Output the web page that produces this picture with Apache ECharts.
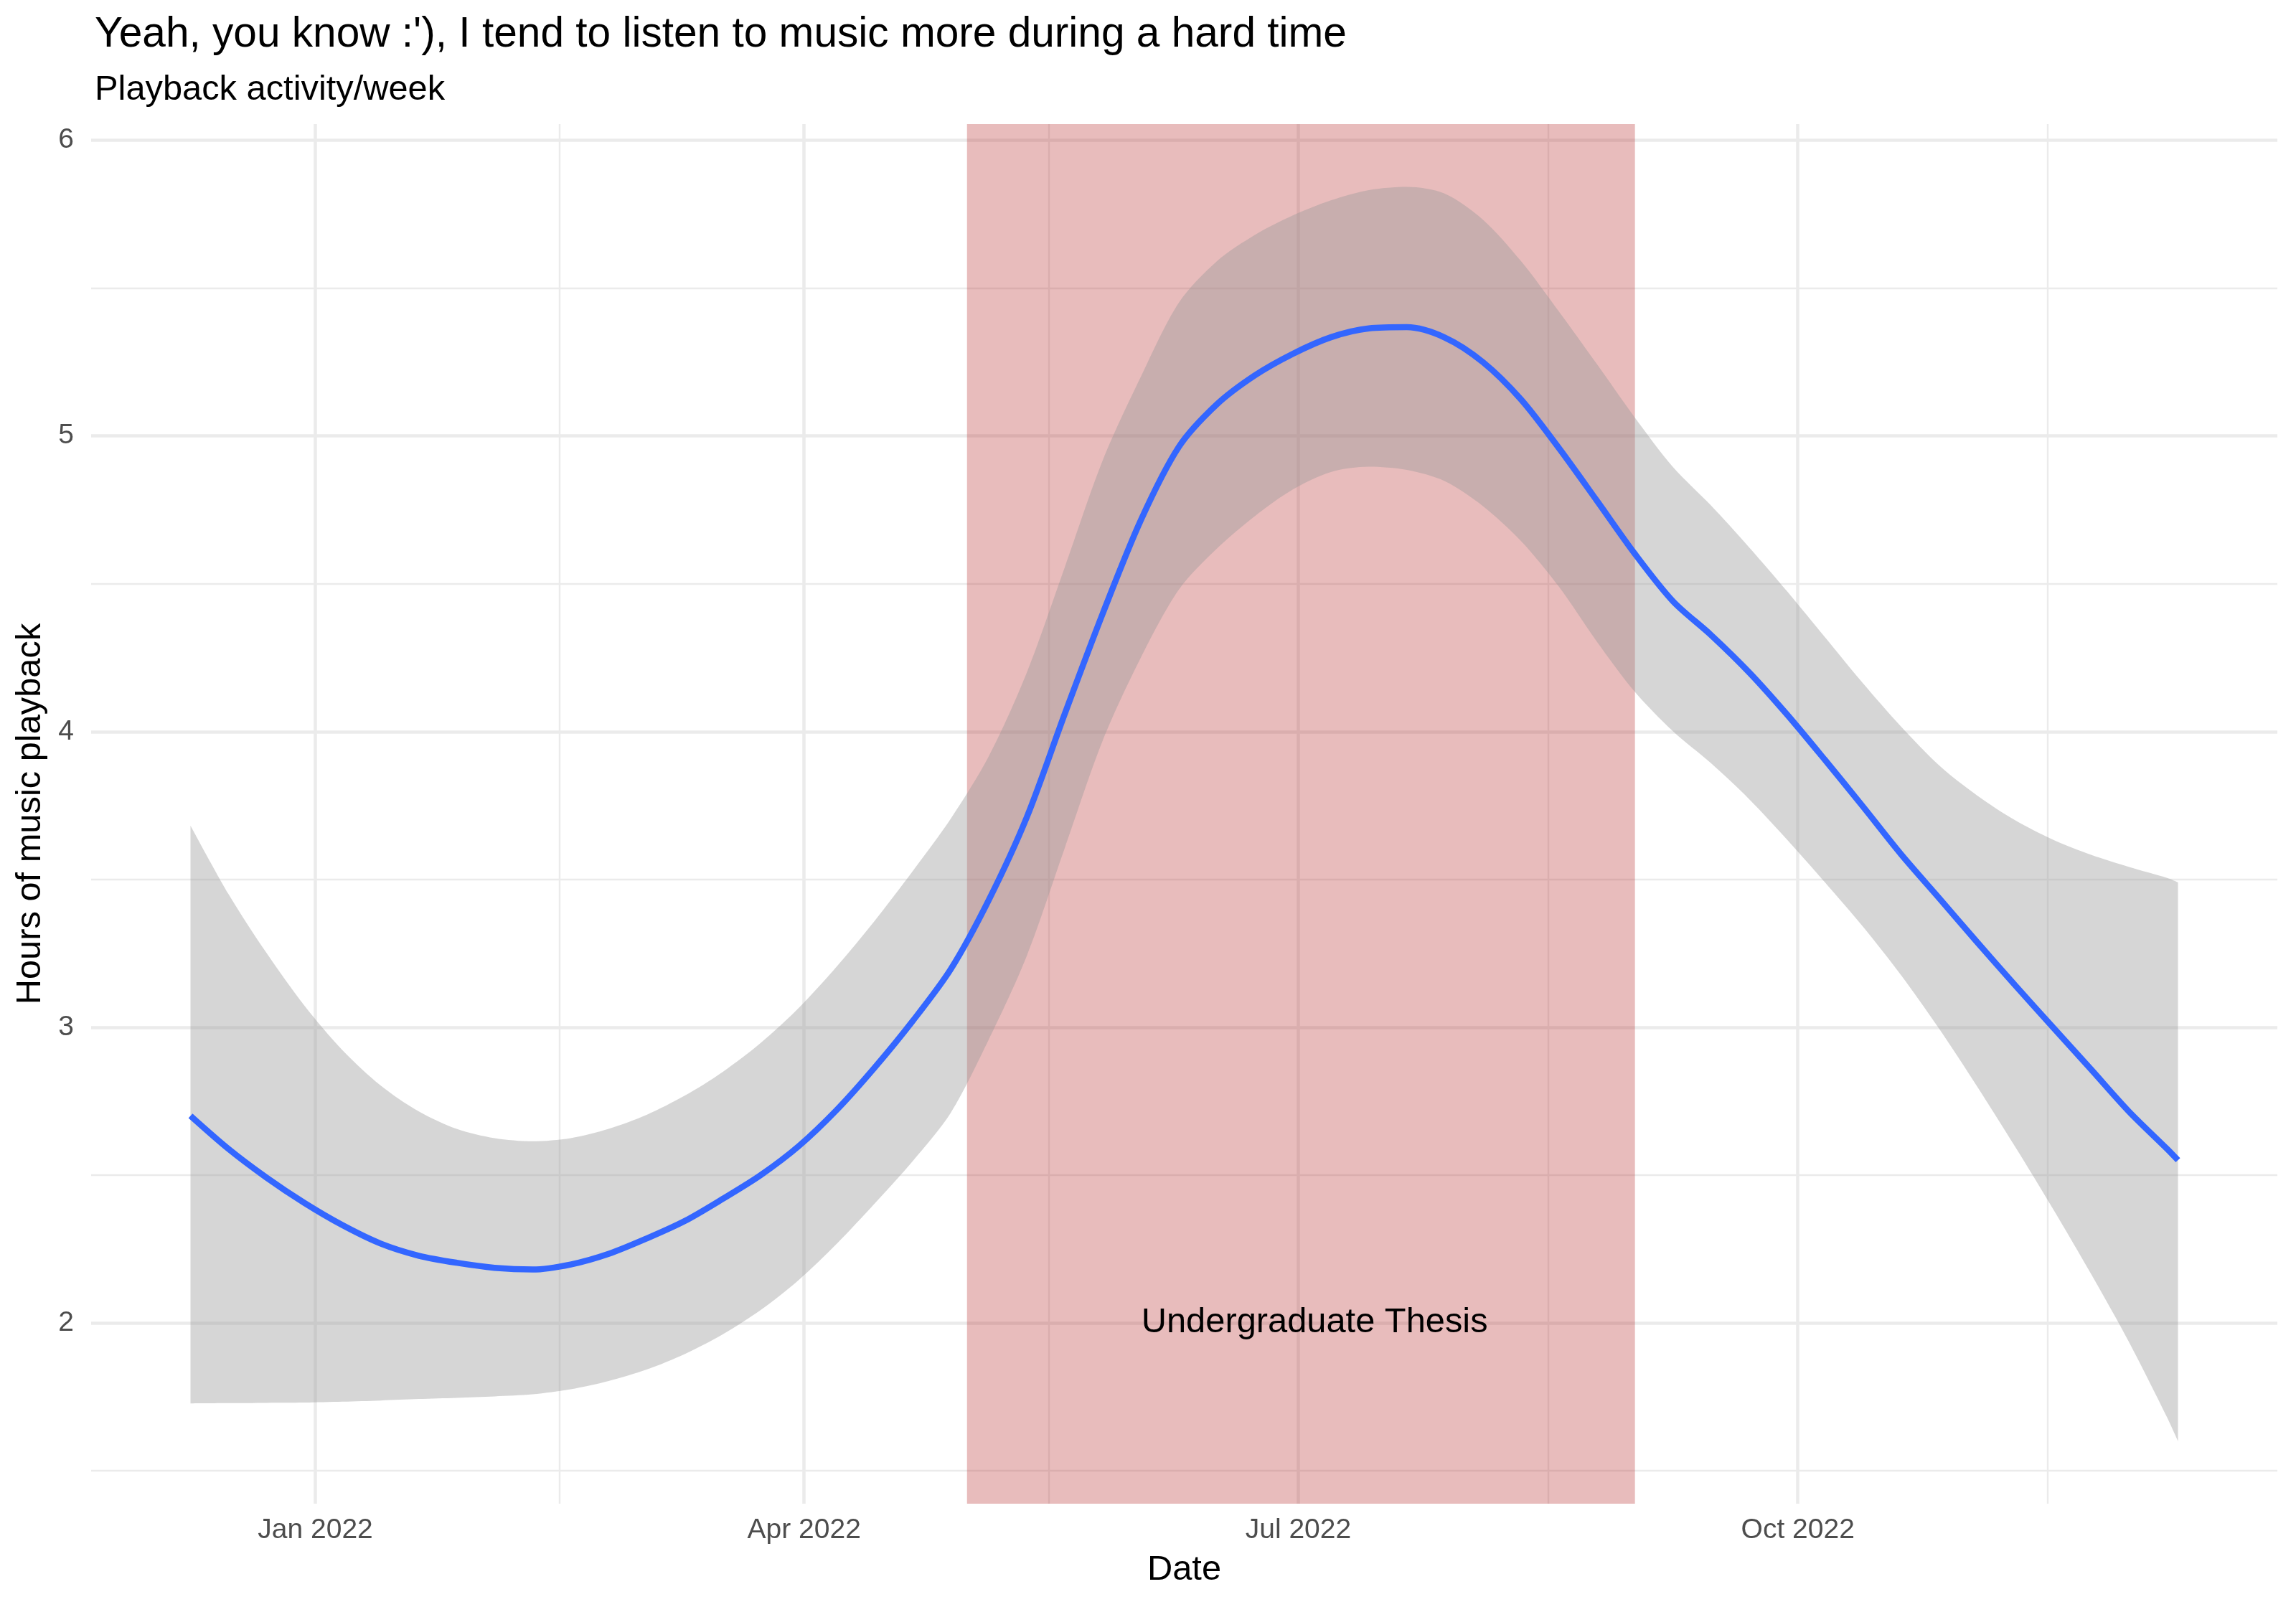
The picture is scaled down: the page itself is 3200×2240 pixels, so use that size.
<!DOCTYPE html>
<html><head><meta charset="utf-8">
<script src="https://cdn.jsdelivr.net/npm/echarts@6/dist/echarts.min.js"></script>
<style>html,body{margin:0;padding:0;background:#fff}#c{width:3200px;height:2240px}</style>
</head><body><div id="c"></div>
<script>
// ---- data ----
const dates = ['2021-12-09','2021-12-16','2021-12-23','2021-12-30','2022-01-06','2022-01-13','2022-01-20','2022-01-27',
 '2022-02-03','2022-02-10','2022-02-17','2022-02-24','2022-03-03','2022-03-10','2022-03-17','2022-03-24','2022-03-31',
 '2022-04-07','2022-04-14','2022-04-21','2022-04-28','2022-05-05','2022-05-12','2022-05-19','2022-05-26','2022-06-02',
 '2022-06-09','2022-06-16','2022-06-23','2022-06-30','2022-07-07','2022-07-14','2022-07-21','2022-07-28','2022-08-04',
 '2022-08-11','2022-08-18','2022-08-25','2022-09-01','2022-09-08','2022-09-15','2022-09-22','2022-09-29','2022-10-06',
 '2022-10-13','2022-10-20','2022-10-27','2022-11-03','2022-11-10','2022-11-17','2022-11-24','2022-12-01','2022-12-08','2022-12-10'];
const fitted = [2.70,2.588,2.491,2.405,2.33,2.268,2.227,2.203,2.186,2.18,2.197,2.233,2.285,2.344,2.419,2.4995,2.5975,
 2.72,2.8635,3.021,3.196,3.43,3.71,4.06,4.40,4.715,4.963,5.107,5.205,5.278,5.334,5.364,5.368,5.333,5.25,5.124,
 4.959,4.781,4.601,4.441,4.327,4.201,4.058,3.904,3.746,3.585,3.437,3.288,3.142,2.999,2.857,2.714,2.588,2.55];
const upperCI = [3.682,3.4505,3.251,3.0725,2.922,2.803,2.7155,2.656,2.6245,2.614,2.6245,2.656,2.7035,2.768,2.8485,2.9465,3.065,
 3.205,3.36,3.528,3.705,3.916,4.199,4.556,4.918,5.2,5.451,5.591,5.68,5.746,5.797,5.832,5.843,5.82,5.732,5.592,
 5.421,5.243,5.062,4.895,4.765,4.624,4.475,4.319,4.163,4.017,3.886,3.784,3.7,3.634,3.583,3.542,3.505,3.49];
const lowerCI = [1.727,1.728,1.729,1.73,1.733,1.737,1.742,1.746,1.751,1.758,1.775,1.803,1.8415,1.894,1.9605,2.043,2.1445,
 2.267,2.4035,2.547,2.71,2.958,3.241,3.606,3.97,4.25,4.48,4.619,4.729,4.819,4.878,4.896,4.885,4.847,4.763,4.645,
 4.49,4.304,4.134,4.001,3.893,3.772,3.635,3.49,3.34,3.176,2.995,2.8,2.596,2.385,2.165,1.934,1.68,1.60];
const thesisStart = '2022-05-01';
const thesisEnd = '2022-09-01';
const thesisLabel = 'Undergraduate Thesis';
const thesisLabelDate = '2022-07-04';
const thesisLabelValue = 2;
const xTickDates = ['2022-01-01','2022-04-01','2022-07-01','2022-10-01'];
const xTickLabels = ['Jan 2022','Apr 2022','Jul 2022','Oct 2022'];
const xMinorDates = ['2022-02-15','2022-05-16','2022-08-16','2022-11-16'];
const yTicks = [2,3,4,5,6];
const yMinorTicks = [1.5,2.5,3.5,4.5,5.5];
const titleText = "Yeah, you know :'), I tend to listen to music more during a hard time";
const subtitleText = 'Playback activity/week';
const xName = 'Date';
const yName = 'Hours of music playback';

// ---- build ----
const toTs = s => { const [y,m,d] = s.split('-').map(Number); return Date.UTC(y, m-1, d); };
const ts = dates.map(toTs);
const xTickTs = xTickDates.map(toTs);
const xMinorTs = xMinorDates.map(toTs);
const span = ts[ts.length-1] - ts[0];
const xMin = ts[0] - 0.05*span, xMax = ts[ts.length-1] + 0.05*span;
const lo = Math.min(...lowerCI), hi = Math.max(...upperCI);
const yMin = lo - 0.05*(hi-lo), yMax = hi + 0.05*(hi-lo);

const FONT = 'Liberation Sans';
const chart = echarts.init(document.getElementById('c'), null, {renderer:'canvas'});
chart.setOption({
  animation: false,
  backgroundColor: '#ffffff',
  textStyle: {fontFamily: FONT},
  title: [
    {text: titleText, left: 127, top: 15, textStyle:{fontFamily: FONT, fontSize: 58.6, fontWeight:'normal', color:'#000', lineHeight:58.6}},
    {text: subtitleText, left: 127, top: 96, textStyle:{fontFamily: FONT, fontSize: 48.8, fontWeight:'normal', color:'#000', lineHeight:48.8}}
  ],
  grid: {left: 127, right: 26, top: 173, bottom: 144, containLabel: false},
  xAxis: [
    // axis used by the series (time scale), drawn invisibly
    {type:'time', min:xMin, max:xMax, position:'bottom',
     axisLine:{show:false}, axisTick:{show:false}, axisLabel:{show:false}, splitLine:{show:false}},
    // major breaks / labels
    {type:'value', min:xMin, max:xMax, scale:true, position:'bottom',
     name:xName, nameLocation:'middle', nameGap:68,
     nameTextStyle:{fontFamily:FONT, fontSize:48.8, color:'#000', lineHeight:48.8},
     axisLine:{show:false},
     axisTick:{show:false, customValues:xTickTs},
     axisLabel:{customValues:xTickTs, margin:18, fontFamily:FONT, fontSize:39, color:'#4D4D4D', lineHeight:39,
       formatter: v => { const i = xTickTs.indexOf(v); return i >= 0 ? xTickLabels[i] : ''; }},
     splitLine:{show:true, lineStyle:{color:'#EBEBEB', width:4.5}}},
    // minor breaks
    {type:'value', min:xMin, max:xMax, scale:true, position:'bottom',
     axisLine:{show:false}, axisLabel:{show:false},
     axisTick:{show:false, customValues:xMinorTs},
     splitLine:{show:true, lineStyle:{color:'#EBEBEB', width:2.4}}}
  ],
  yAxis: [
    {type:'value', min:yMin, max:yMax,
     name:yName, nameLocation:'middle', nameGap:60, nameRotate:90,
     nameTextStyle:{fontFamily:FONT, fontSize:48.8, color:'#000', lineHeight:48.8},
     axisLine:{show:false},
     axisTick:{show:false, customValues:yTicks},
     axisLabel:{customValues:yTicks, margin:24, fontFamily:FONT, fontSize:39, color:'#4D4D4D'},
     splitLine:{show:true, lineStyle:{color:'#EBEBEB', width:4.5}}},
    {type:'value', min:yMin, max:yMax, position:'left',
     axisLine:{show:false}, axisLabel:{show:false},
     axisTick:{show:false, customValues:yMinorTicks},
     splitLine:{show:true, lineStyle:{color:'#EBEBEB', width:2.4}}}
  ],
  series: [
    {name:'thesis', type:'line', xAxisIndex:0, yAxisIndex:0, z:1, silent:true,
     data: [], symbol:'none',
     markArea:{silent:true, itemStyle:{color:'rgba(178,34,34,0.3)'},
       data:[[{xAxis: toTs(thesisStart)}, {xAxis: toTs(thesisEnd)}]]}},
    {name:'lower', type:'line', stack:'ci', xAxisIndex:0, z:2, silent:true, symbol:'none', smooth:0.3,
     data: ts.map((t,i) => [t, lowerCI[i]]),
     lineStyle:{width:0, opacity:0}},
    {name:'band', type:'line', stack:'ci', xAxisIndex:0, z:2, silent:true, symbol:'none', smooth:0.3,
     data: ts.map((t,i) => [t, upperCI[i] - lowerCI[i]]),
     lineStyle:{width:0, opacity:0},
     areaStyle:{color:'rgba(153,153,153,0.4)', opacity:1}},
    {name:'fit', type:'line', xAxisIndex:0, z:3, silent:true, symbol:'none', smooth:0.3,
     data: ts.map((t,i) => [t, fitted[i]]),
     lineStyle:{color:'#3366FF', width:8.5}},
    {name:'label', type:'scatter', xAxisIndex:0, z:4, silent:true, symbolSize:1,
     itemStyle:{color:'rgba(0,0,0,0)'},
     data: [[toTs(thesisLabelDate), thesisLabelValue]],
     label:{show:true, position:'inside', formatter: thesisLabel, fontFamily:FONT, fontSize:48.8,
       color:'#000000', opacity:1, textBorderWidth:0}}
  ]
});
</script>
</body></html>
